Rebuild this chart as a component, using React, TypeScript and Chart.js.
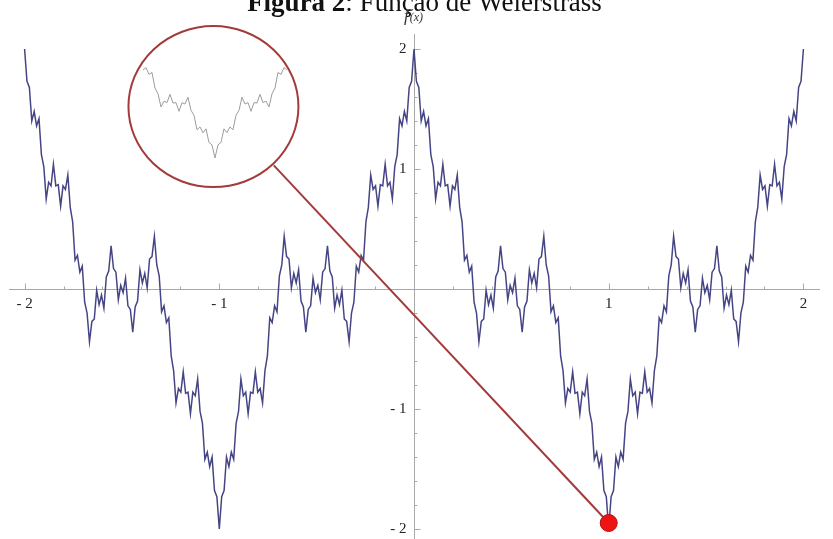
import React, { useEffect, useRef } from 'react';
import { Chart, registerables } from 'chart.js';

Chart.register(...registerables);

// ---- data ----
const X_START = -2;
const X_STEP = 1 / 81;
const F_VALUES = [
  2.00, 1.73, 1.68, 1.40, 1.48, 1.36, 1.42, 1.12, 1.02, 0.75,
  0.89, 0.86, 1.04, 0.86, 0.87, 0.69, 0.86, 0.83, 0.95, 0.68,
  0.56, 0.24, 0.28, 0.14, 0.19, -0.11, -0.20, -0.44, -0.27, -0.25,
  -0.01, -0.13, -0.05, -0.16, 0.10, 0.15, 0.36, 0.17, 0.14, -0.09,
  0.03, -0.03, 0.09, -0.14, -0.17, -0.36, -0.15, -0.10, 0.16, 0.05,
  0.13, 0.01, 0.25, 0.27, 0.44, 0.20, 0.11, -0.19, -0.14, -0.28,
  -0.24, -0.56, -0.68, -0.95, -0.83, -0.86, -0.69, -0.87, -0.86, -1.04,
  -0.86, -0.89, -0.75, -1.02, -1.12, -1.42, -1.36, -1.48, -1.40, -1.68,
  -1.73, -2.00,
  -1.73, -1.68, -1.40, -1.48, -1.36, -1.42, -1.12, -1.02, -0.75, -0.89,
  -0.86, -1.04, -0.86, -0.87, -0.69, -0.86, -0.83, -0.95, -0.68, -0.56,
  -0.24, -0.28, -0.14, -0.19, 0.11, 0.20, 0.44, 0.27, 0.25, 0.01,
  0.13, 0.05, 0.16, -0.10, -0.15, -0.36, -0.17, -0.14, 0.09, -0.03,
  0.03, -0.09, 0.14, 0.17, 0.36, 0.15, 0.10, -0.16, -0.05, -0.13,
  -0.01, -0.25, -0.27, -0.44, -0.20, -0.11, 0.19, 0.14, 0.28, 0.24,
  0.56, 0.68, 0.95, 0.83, 0.86, 0.69, 0.87, 0.86, 1.04, 0.86,
  0.89, 0.75, 1.02, 1.12, 1.42, 1.36, 1.48, 1.40, 1.68, 1.73,
  2.00, 1.73, 1.68, 1.40, 1.48, 1.36, 1.42, 1.12, 1.02, 0.75,
  0.89, 0.86, 1.04, 0.86, 0.87, 0.69, 0.86, 0.83, 0.95, 0.68,
  0.56, 0.24, 0.28, 0.14, 0.19, -0.11, -0.20, -0.44, -0.27, -0.25,
  -0.01, -0.13, -0.05, -0.16, 0.10, 0.15, 0.36, 0.17, 0.14, -0.09,
  0.03, -0.03, 0.09, -0.14, -0.17, -0.36, -0.15, -0.10, 0.16, 0.05,
  0.13, 0.01, 0.25, 0.27, 0.44, 0.20, 0.11, -0.19, -0.14, -0.28,
  -0.24, -0.56, -0.68, -0.95, -0.83, -0.86, -0.69, -0.87, -0.86, -1.04,
  -0.86, -0.89, -0.75, -1.02, -1.12, -1.42, -1.36, -1.48, -1.40, -1.68,
  -1.73, -2.00,
  -1.73, -1.68, -1.40, -1.48, -1.36, -1.42, -1.12, -1.02, -0.75, -0.89,
  -0.86, -1.04, -0.86, -0.87, -0.69, -0.86, -0.83, -0.95, -0.68, -0.56,
  -0.24, -0.28, -0.14, -0.19, 0.11, 0.20, 0.44, 0.27, 0.25, 0.01,
  0.13, 0.05, 0.16, -0.10, -0.15, -0.36, -0.17, -0.14, 0.09, -0.03,
  0.03, -0.09, 0.14, 0.17, 0.36, 0.15, 0.10, -0.16, -0.05, -0.13,
  -0.01, -0.25, -0.27, -0.44, -0.20, -0.11, 0.19, 0.14, 0.28, 0.24,
  0.56, 0.68, 0.95, 0.83, 0.86, 0.69, 0.87, 0.86, 1.04, 0.86,
  0.89, 0.75, 1.02, 1.12, 1.42, 1.36, 1.48, 1.40, 1.68, 1.73,
  2.00,
];

// magnified view (inset inside the lens), same units as the main curve
const INSET_X_START = 57 / 81;
const INSET_VALUES = [
  -0.19, -0.14, -0.28, -0.24, -0.56, -0.68, -0.95, -0.83, -0.86, -0.69,
  -0.87, -0.86, -1.04, -0.86, -0.89, -0.75, -1.02, -1.12, -1.42, -1.36,
  -1.48, -1.40, -1.68, -1.73, -2.00, -1.73, -1.68, -1.40, -1.48, -1.36,
  -1.42, -1.12, -1.02, -0.75, -0.89, -0.86, -1.04, -0.86, -0.87, -0.69,
  -0.86, -0.83, -0.95, -0.68, -0.56, -0.24, -0.28, -0.14, -0.19,
];

const DOT_X = [1];
const DOT_Y = [-1.95];
const CONNECTOR_X = [-0.72, 1];
const CONNECTOR_Y = [1.03, -1.95];

const X_TICK_VALUES = [-2, -1, 1, 2];
const Y_TICK_VALUES = [-2, -1, 1, 2];

const TITLE_BOLD = 'Figura 2';
const TITLE_REST = ': Função de Weierstrass';
const Y_LABEL_F = 'f';
const Y_LABEL_ARG = '(x)';

// ---- styles / geometry ----
const CURVE_COLOR = '#454585';
const LENS_COLOR = '#a33b3b';
const AXIS_COLOR = '#a8a8a8';
const LABEL_COLOR = '#222222';
const SERIF = '"Liberation Serif", "Times New Roman", serif';
const LENS_CENTER = { x: -1.03, y: 1.52 };
const LENS_RX = 0.4365; // x units
const LENS_RY = 0.671; // y units
const WIDTH = 833;
const HEIGHT = 539;

const fmt = (v: number) => (v < 0 ? '- ' + Math.abs(v) : String(v));

const noPadding = (s: any) => {
  s.paddingTop = 0;
  s.paddingBottom = 0;
  s.paddingLeft = 0;
  s.paddingRight = 0;
};

const axisTicksPlugin = {
  id: 'axisTicks',
  beforeDatasetsDraw(chart: any) {
    const { ctx, scales } = chart;
    const x = scales.x;
    const y = scales.y;
    const x0 = Math.round(x.getPixelForValue(0)) + 0.5;
    const y0 = Math.round(y.getPixelForValue(0)) + 0.5;
    ctx.save();
    ctx.strokeStyle = AXIS_COLOR;
    ctx.lineWidth = 1;
    for (let i = -10; i <= 10; i++) {
      if (i === 0) continue;
      const v = i * 0.2;
      const major = i % 5 === 0;
      const len = major ? 6 : 3;
      const px = Math.round(x.getPixelForValue(v)) + 0.5;
      ctx.beginPath();
      ctx.moveTo(px, y0);
      ctx.lineTo(px, y0 - len);
      ctx.stroke();
      const py = Math.round(y.getPixelForValue(v)) + 0.5;
      ctx.beginPath();
      ctx.moveTo(x0, py);
      ctx.lineTo(x0 + len, py);
      ctx.stroke();
    }
    ctx.restore();
  },
};

const lensPlugin = {
  id: 'lens',
  afterDatasetsDraw(chart: any) {
    const { ctx, scales } = chart;
    const x = scales.x;
    const y = scales.y;
    const cx = x.getPixelForValue(LENS_CENTER.x);
    const cy = y.getPixelForValue(LENS_CENTER.y);
    const rx = Math.abs(x.getPixelForValue(LENS_CENTER.x + LENS_RX) - cx);
    const ry = Math.abs(y.getPixelForValue(LENS_CENTER.y + LENS_RY) - cy);
    ctx.save();
    ctx.strokeStyle = LENS_COLOR;
    ctx.lineWidth = 2;
    ctx.beginPath();
    ctx.ellipse(cx, cy, rx, ry, 0, 0, Math.PI * 2);
    ctx.stroke();
    ctx.restore();
  },
};

const textPlugin = {
  id: 'texts',
  afterDraw(chart: any) {
    const { ctx, scales } = chart;
    const x0 = scales.x.getPixelForValue(0);
    ctx.save();
    ctx.fillStyle = '#111';
    ctx.textBaseline = 'alphabetic';
    ctx.textAlign = 'left';
    // title
    const boldFont = 'bold 27px ' + SERIF;
    const regFont = '27px ' + SERIF;
    ctx.font = boldFont;
    const wb = ctx.measureText(TITLE_BOLD).width;
    ctx.font = regFont;
    const wr = ctx.measureText(TITLE_REST).width;
    const start = 424.5 - (wb + wr) / 2;
    ctx.font = boldFont;
    ctx.fillText(TITLE_BOLD, start, 11);
    ctx.font = regFont;
    ctx.fillText(TITLE_REST, start + wb, 11);
    // y axis label f(x)
    ctx.fillStyle = '#333';
    const fFont = 'italic 17px ' + SERIF;
    const aFont = 'italic 12px ' + SERIF;
    ctx.font = fFont;
    const wf = ctx.measureText(Y_LABEL_F).width;
    ctx.font = aFont;
    const wa = ctx.measureText(Y_LABEL_ARG).width;
    const ls = x0 - 1 - (wf + wa) / 2;
    ctx.font = fFont;
    ctx.fillText(Y_LABEL_F, ls, 21);
    ctx.font = aFont;
    ctx.fillText(Y_LABEL_ARG, ls + wf + 1, 21);
    ctx.restore();
  },
};

export default function App() {
  const canvasRef = useRef<HTMLCanvasElement | null>(null);

  useEffect(() => {
    const canvas = canvasRef.current;
    if (!canvas) return;
    const mainData = F_VALUES.map((v, i) => ({ x: X_START + i * X_STEP, y: v }));
    const insetData = INSET_VALUES.map((v, i) => ({ x: INSET_X_START + i * X_STEP, y: v }));
    const dotData = DOT_X.map((v, i) => ({ x: v, y: DOT_Y[i] }));
    const connData = CONNECTOR_X.map((v, i) => ({ x: v, y: CONNECTOR_Y[i] }));

    const tickFont = { family: SERIF, size: 15 };

    const chart = new Chart(canvas, {
      type: 'line',
      data: {
        datasets: [
          {
            label: 'ponto',
            data: dotData,
            showLine: false,
            pointRadius: 8.5,
            pointHoverRadius: 8.5,
            pointBackgroundColor: '#ee1414',
            pointBorderColor: '#b80d0d',
            pointBorderWidth: 1,
            order: 0,
            clip: false,
          },
          {
            label: 'ligação',
            data: connData,
            borderColor: LENS_COLOR,
            borderWidth: 2,
            pointRadius: 0,
            order: 1,
          },
          {
            label: 'ampliação',
            data: insetData,
            xAxisID: 'xi',
            yAxisID: 'yi',
            borderColor: '#9c9c9c',
            borderWidth: 1,
            pointRadius: 0,
            order: 2,
          },
          {
            label: 'f(x)',
            data: mainData,
            borderColor: CURVE_COLOR,
            borderWidth: 1.5,
            pointRadius: 0,
            tension: 0,
            order: 3,
          },
        ],
      },
      options: {
        animation: false,
        responsive: false,
        devicePixelRatio: 1,
        layout: { autoPadding: false, padding: { left: 9, right: 14, top: 34.6, bottom: 0.4 } },
        plugins: {
          legend: { display: false },
          title: { display: false },
          tooltip: { enabled: false },
        },
        scales: {
          x: {
            type: 'linear',
            position: { y: 0 },
            min: -2.08,
            max: 2.08,
            afterFit: noPadding,
            afterBuildTicks: (s: any) => {
              s.ticks = X_TICK_VALUES.map((v) => ({ value: v }));
            },
            ticks: {
              font: tickFont,
              color: LABEL_COLOR,
              padding: 6,
              autoSkip: false,
              maxRotation: 0,
              callback: (v: any) => fmt(Number(v)),
            },
            grid: { display: false, drawTicks: false },
            border: { display: true, color: AXIS_COLOR, width: 1 },
          },
          y: {
            type: 'linear',
            position: { x: 0 },
            min: -2.08,
            max: 2.12,
            afterFit: noPadding,
            afterBuildTicks: (s: any) => {
              s.ticks = Y_TICK_VALUES.map((v) => ({ value: v }));
            },
            ticks: {
              font: tickFont,
              color: LABEL_COLOR,
              padding: 0,
              autoSkip: false,
              callback: (v: any) => fmt(Number(v)) + '\u2002',
            },
            grid: { display: false, drawTicks: false },
            border: { display: true, color: AXIS_COLOR, width: 1 },
          },
          xi: { type: 'linear', display: false, min: 0.1523, max: 3.4856, afterFit: noPadding },
          yi: { type: 'linear', display: false, min: -9.831, max: 0.539, afterFit: noPadding },
        },
      } as any,
      plugins: [axisTicksPlugin, lensPlugin, textPlugin],
    });
    return () => chart.destroy();
  }, []);

  return (
    <div style={{ position: 'absolute', left: 0, top: 0, width: WIDTH, height: HEIGHT, background: '#fff' }}>
      <canvas ref={canvasRef} width={WIDTH} height={HEIGHT} style={{ display: 'block', width: WIDTH, height: HEIGHT }} />
    </div>
  );
}
